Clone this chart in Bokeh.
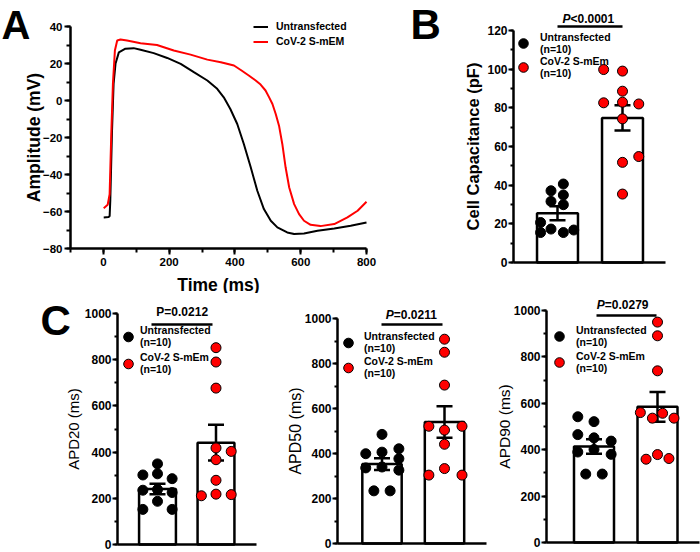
from bokeh.plotting import figure
from bokeh.layouts import column, row
from bokeh.models import Range1d, SingleIntervalTicker, FixedTicker, Label, Legend, LegendItem
from bokeh.core.properties import value
from bokeh.embed import file_html
from bokeh.resources import INLINE

FONT = "Liberation Sans"

# ---------------- data ----------------
# Panel A: action potentials
ap_time_untr = [1, 16, 19, 21, 26, 31, 37, 47, 67, 92, 113, 153, 194, 235, 275, 316, 346, 366, 386, 407,
                427, 448, 468, 488, 509, 529, 559, 580, 610, 651, 702, 752, 800]
ap_mv_untr = [-63.2, -63.0, -62.5, -54, -18, 9, 20, 26, 28, 28.3, 27.4, 25.6, 23, 19.8, 15.3, 10.8, 6.3, 1.7,
              -4.6, -12.7, -23.5, -36.1, -48.8, -58.7, -65, -68.6, -71.3, -72.2, -71.9, -70.4, -69.2, -67.7, -65.9]
ap_time_cov = [1, 13, 19, 24, 29, 35, 42, 52, 72, 113, 163, 214, 265, 316, 357, 397, 420, 442, 463, 478,
               493, 504, 514, 524, 534, 544, 554, 565, 580, 595, 610, 630, 660, 702, 742, 773, 800]
ap_mv_cov = [-58.2, -56.4, -50.6, -18, 9, 27, 32.4, 33, 32.4, 31, 30, 27, 24.8, 22.1, 20.7, 18.9, 16.2, 13.5,
             10.8, 8.6, 5.4, 1.7, -1.9, -7.3, -13.6, -23.5, -36.1, -47, -56, -61.4, -65, -67.2, -67.9, -66.8,
             -63.2, -59.6, -54.7]

groups = [1, 2]
legend_labels = ["Untransfected\n(n=10)", "CoV-2 S-mEm\n(n=10)"]

# Panel B: cell capacitance (pF)
cap_untr = [40.6, 37.1, 34.9, 31.6, 29.9, 20.7, 17.3, 15.5, 15.5, 16.8]
cap_untr_jit = [0.09, -0.10, 0.09, -0.10, 0.09, -0.26, -0.10, -0.26, 0.09, 0.25]
cap_cov = [99.8, 99.0, 88.6, 82.6, 82.9, 82.0, 74.3, 54.8, 51.8, 35.4]
cap_cov_jit = [-0.29, 0.0, 0.0, -0.29, 0.0, 0.25, 0.0, 0.25, 0.0, 0.0]
cap_mean = [25.5, 74.8]
cap_sem = [3.6, 6.5]

# Panel C: APD20 / APD50 / APD90 (ms)
apd20_untr = [349, 301, 306, 285, 235, 238, 225, 187, 152, 152]
apd20_untr_jit = [0, -0.25, 0, 0.25, -0.25, 0, 0.25, 0, -0.25, 0.25]
apd20_cov = [852, 790, 677, 418, 403, 367, 278, 211, 218, 216]
apd20_cov_jit = [0, 0, 0, 0, 0.26, 0, 0, -0.25, 0, 0.26]
apd20_mean = [240, 441]
apd20_sem = [23, 77]

apd50_untr = [485, 399, 406, 421, 377, 336, 340, 326, 234, 234]
apd50_untr_jit = [0, -0.26, 0, 0.27, 0.27, -0.26, 0, 0.27, -0.13, 0.13]
apd50_cov = [908, 850, 704, 521, 521, 504, 441, 304, 333, 304]
apd50_cov_jit = [0, 0, 0, -0.25, 0.28, 0, 0, -0.25, 0, 0.28]
apd50_mean = [353, 540]
apd50_sem = [26, 70]

apd90_untr = [542, 521, 465, 451, 437, 390, 401, 380, 295, 295]
apd90_untr_jit = [-0.255, 0, -0.255, 0, 0.27, -0.255, 0, 0.27, -0.13, 0.13]
apd90_cov = [950, 891, 740, 560, 536, 557, 536, 359, 379, 362]
apd90_cov_jit = [0, 0, 0, -0.27, -0.08, 0.08, 0.26, -0.18, 0, 0.18]
apd90_mean = [414, 585]
apd90_sem = [31, 64]


# ---------------- helpers ----------------
def lin(d0, p0, d1, p1):
    k = (p1 - p0) / (d1 - d0)
    return (lambda d: p0 + (d - d0) * k), (lambda p: d0 + (p - p0) / k)


class Panel:
    """Figure whose plotting frame fills the whole figure; positions in page pixels."""
    def __init__(self, fig_box, xmap, ymap):
        gl, gt, gr, gb = fig_box
        self.gl, self.gt, self.gr, self.gb = fig_box
        self.xpx, self.xd = lin(*xmap)
        self.ypx, self.yd = lin(*ymap)
        self.p = figure(width=gr - gl, height=gb - gt,
                        x_range=Range1d(self.xd(gl), self.xd(gr)),
                        y_range=Range1d(self.yd(gb), self.yd(gt)),
                        min_border_left=0, min_border_right=0,
                        min_border_top=0, min_border_bottom=0,
                        output_backend="svg", toolbar_location=None)
        p = self.p
        p.outline_line_color = None
        p.grid.grid_line_color = None
        p.background_fill_color = "white"
        p.border_fill_color = "white"

    def loc(self, left, bottom):
        return (left - self.gl, self.gb - bottom)


def style_axis(ax, tick_size, tick_out, minor_out, label_standoff):
    ax.axis_line_width = 2.5
    ax.axis_line_color = "black"
    ax.major_tick_line_width = 2
    ax.minor_tick_line_width = 2
    ax.major_tick_line_color = "black"
    ax.minor_tick_line_color = "black"
    ax.major_tick_out = tick_out
    ax.major_tick_in = 0
    ax.minor_tick_out = minor_out
    ax.minor_tick_in = 0
    ax.major_label_text_font = FONT
    ax.major_label_text_font_style = "bold"
    ax.major_label_text_font_size = tick_size
    ax.major_label_text_color = "black"
    ax.major_label_standoff = label_standoff
    ax.axis_label_text_font = FONT
    ax.axis_label_text_color = "black"


def letter(P, text, x, y, size="42px"):
    P.p.add_layout(Label(x=P.xd(x), y=P.yd(y), x_units="data", y_units="data", text=text,
                         text_font=FONT, text_font_style="bold", text_font_size=size,
                         text_align="left", text_baseline="middle", text_color="black"))


def bar_panel(P, axis_x, axis_end, untr, untr_jit, cov, cov_jit, means, sems, ylabel, ylabel_size,
              ylabel_style, interval, top, ax_standoff, leg, pval):
    p = P.p
    ax = p.yaxis[0]
    style_axis(ax, "12px", 5, 3, 1)
    ax.fixed_location = P.xd(axis_x)
    ax.ticker = SingleIntervalTicker(interval=interval, num_minor_ticks=2)
    ax.bounds = (0, top)
    ax.axis_label = ylabel
    ax.axis_label_text_font_size = ylabel_size
    ax.axis_label_text_font_style = ylabel_style
    ax.axis_label_standoff = ax_standoff

    xa = p.xaxis[0]
    xa.fixed_location = 0
    xa.bounds = (P.xd(axis_x), P.xd(axis_end))
    xa.ticker = FixedTicker(ticks=[])
    xa.axis_line_width = 2.5
    xa.axis_line_color = "black"
    xa.major_tick_line_color = None
    xa.minor_tick_line_color = None
    xa.major_label_text_font_size = "0px"

    p.vbar(x=groups, top=means, bottom=0, width=0.63, fill_color="white",
           line_color="black", line_width=2.5)
    lo = [m - s for m, s in zip(means, sems)]
    hi = [m + s for m, s in zip(means, sems)]
    half = P.xd(P.xpx(1) + 8) - 1
    p.segment(x0=groups, y0=lo, x1=groups, y1=hi, line_color="black", line_width=2.5)
    p.segment(x0=[g - half for g in groups], y0=hi, x1=[g + half for g in groups], y1=hi,
              line_color="black", line_width=2.5)
    p.segment(x0=[g - half for g in groups], y0=lo, x1=[g + half for g in groups], y1=lo,
              line_color="black", line_width=2.5)
    rb = p.scatter(x=[1 + j for j in untr_jit], y=untr, size=10, fill_color="black",
                   line_color="black", line_width=1)
    rr = p.scatter(x=[2 + j for j in cov_jit], y=cov, size=10, fill_color="#ff0000",
                   line_color="black", line_width=1)

    left, bottom, h, standoff = leg
    lg = Legend(items=[LegendItem(label=legend_labels[0], renderers=[rb]),
                       LegendItem(label=legend_labels[1], renderers=[rr])],
                location=P.loc(left, bottom), glyph_width=24, glyph_height=h, label_height=h,
                label_width=10, label_standoff=standoff, spacing=0, padding=0, margin=0,
                border_line_color=None, background_fill_alpha=0,
                label_text_font=FONT, label_text_font_style="bold",
                label_text_font_size="10.5px", label_text_color="black",
                label_text_line_height=1.15)
    p.add_layout(lg)

    italic, head, rest, tx, ty, ly, lx0, lx1 = pval
    if italic:
        p.text(x=[P.xd(tx)], y=[P.yd(ty)], text=[head], text_font=value(FONT),
               text_font_style="bold italic", text_font_size="12px", text_align="right",
               text_baseline="middle", text_color="black")
        p.text(x=[P.xd(tx)], y=[P.yd(ty)], text=[rest], text_font=value(FONT),
               text_font_style="bold", text_font_size="12px", text_align="left",
               text_baseline="middle", text_color="black")
    else:
        p.text(x=[P.xd(tx)], y=[P.yd(ty)], text=[head + rest], text_font=value(FONT),
               text_font_style="bold", text_font_size="12px", text_align="center",
               text_baseline="middle", text_color="black")
    p.segment(x0=[P.xd(lx0)], y0=[P.yd(ly)], x1=[P.xd(lx1)], y1=[P.yd(ly)],
              line_color="black", line_width=2.5)
    return p


# ---------------- Panel A ----------------
A = Panel((0, 0, 400, 293), (-100, 70, 800, 366), (40, 26, -80, 248))
pa = A.p
la = pa.line(ap_time_untr, ap_mv_untr, line_color="black", line_width=2)
lr = pa.line(ap_time_cov, ap_mv_cov, line_color="#ff0000", line_width=2)
xa = pa.xaxis[0]
style_axis(xa, "11.5px", 6, 4, 3)
xa.fixed_location = -80
xa.bounds = (-100, 800)
xa.ticker = SingleIntervalTicker(interval=200, num_minor_ticks=2)
xa.axis_label = "Time (ms)"
xa.axis_label_text_font_size = "17.5px"
xa.axis_label_text_font_style = "bold"
xa.axis_label_standoff = 6
ya = pa.yaxis[0]
style_axis(ya, "11.5px", 6, 4, 2)
ya.fixed_location = -100
ya.bounds = (-80, 40)
ya.ticker = SingleIntervalTicker(interval=20, num_minor_ticks=2)
ya.axis_label = "Amplitude (mV)"
ya.axis_label_text_font_size = "17.5px"
ya.axis_label_text_font_style = "bold"
ya.axis_label_standoff = -4
lga = Legend(items=[LegendItem(label="Untransfected", renderers=[la]),
                    LegendItem(label="CoV-2 S-mEM", renderers=[lr])],
             location=A.loc(253, 48.5), glyph_width=15, glyph_height=15, label_height=15,
             label_width=10, label_standoff=8, spacing=0, padding=0, margin=0,
             border_line_color=None, background_fill_alpha=0,
             label_text_font=FONT, label_text_font_style="bold", label_text_font_size="10.5px",
             label_text_color="black")
pa.add_layout(lga)
letter(A, "A", 1, 24, "40px")

# ---------------- Panel B ----------------
B = Panel((400, 0, 700, 293), (1, 557, 2, 622), (0, 262, 120, 30))
pb = bar_panel(B, 513, 665, cap_untr, cap_untr_jit, cap_cov, cap_cov_jit, cap_mean, cap_sem,
               "Cell Capacitance (pF)", "16.5px", "bold", 20, 120, 2,
               (511, 79, 24, 5), (True, "P", "<0.0001", 570, 18.5, 26, 557, 622))
letter(B, "B", 410, 24)

# ---------------- Panel C ----------------
C1 = Panel((0, 293, 262, 552), (1, 157, 2, 215.5), (0, 544, 1000, 313))
pc1 = bar_panel(C1, 117, 256, apd20_untr, apd20_untr_jit, apd20_cov, apd20_cov_jit, apd20_mean, apd20_sem,
                "APD20 (ms)", "15px", "normal", 200, 1000, 0,
                (116, 376.5, 27, -3), (False, "P", "=0.0212", 181.7, 311, 324, 151, 212))
letter(C1, "C", 40, 320)

C2 = Panel((262, 293, 490, 552), (1, 381.5, 2, 444), (0, 543, 1000, 318))
pc2 = bar_panel(C2, 337, 486, apd50_untr, apd50_untr_jit, apd50_cov, apd50_cov_jit, apd50_mean, apd50_sem,
                "APD50 (ms)", "16px", "normal", 200, 1000, -2,
                (336, 379.5, 25, 4), (True, "P", "=0.0211", 393.3, 314, 324, 381, 442))

C3 = Panel((490, 293, 700, 552), (1, 593.5, 2, 657), (0, 542, 1000, 310))
pc3 = bar_panel(C3, 546, 699, apd90_untr, apd90_untr_jit, apd90_cov, apd90_cov_jit, apd90_mean, apd90_sem,
                "APD90 (ms)", "15.5px", "normal", 200, 1000, -2,
                (547, 375, 26, 5), (True, "P", "=0.0279", 604.3, 304, 315, 596, 656))

layout = column(row(pa, pb), row(pc1, pc2, pc3))

open("out.html", "w").write(file_html(layout, INLINE))
